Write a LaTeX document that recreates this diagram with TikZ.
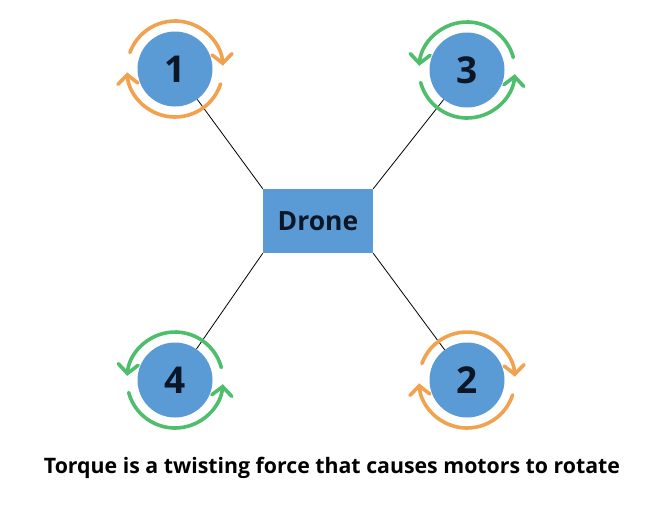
\documentclass[tikz,border=0pt]{standalone}
\usepackage{fontspec}
\setmainfont{Open Sans}
\usetikzlibrary{arrows.meta,calc}
\definecolor{motorblue}{HTML}{5B9BD5}
\definecolor{txtdark}{HTML}{0B1626}
\definecolor{orangearr}{HTML}{F0A24E}
\definecolor{greenarr}{HTML}{4DBE6C}
\tikzset{
  motor/.style={circle, fill=motorblue, minimum size=75pt, inner sep=0pt,
    font=\fontsize{37}{37}\selectfont\bfseries, text=txtdark},
  dronebox/.style={rectangle, fill=motorblue, minimum width=110pt, minimum height=64pt,
    inner sep=0pt, font=\fontsize{26.5}{26.5}\selectfont\bfseries, text=txtdark},
  arm/.style={draw=black, line width=0.8pt},
  spin/.style={line width=3.6pt, line cap=round, -{Straight Barb[length=9pt,width=20pt,line cap=round]}},
  cwspin/.style={spin, draw=orangearr},
  ccwspin/.style={spin, draw=greenarr},
}
\begin{document}
\begin{tikzpicture}[x=1pt,y=-1pt]
\useasboundingbox (0,0) rectangle (647,507);
\fill[white] (0,0) rectangle (647,507);
\node[dronebox] (drone) at (318,221) {Drone};
\node[motor] (m1) at (175,69) {1};
\node[motor] (m3) at (467,70) {3};
\node[motor] (m4) at (175,380) {4};
\node[motor] (m2) at (467,380) {2};
\draw[arm] (m1) -- (drone.north west);
\draw[arm] (m3) -- (drone.north east);
\draw[arm] (m4) -- (drone.south west);
\draw[arm] (m2) -- (drone.south east);
% clockwise (orange) -- note y axis flipped, so angles are mirrored
\foreach \m in {m1,m2}{
  \draw[cwspin] ($(\m)+(-160:48)$) arc[start angle=-160, end angle=-4, radius=48];
  \draw[cwspin] ($(\m)+(18:48)$) arc[start angle=18, end angle=176, radius=48];
}
\foreach \m in {m3,m4}{
  \draw[ccwspin] ($(\m)+(-15:48)$) arc[start angle=-15, end angle=-175, radius=48];
  \draw[ccwspin] ($(\m)+(165:48)$) arc[start angle=165, end angle=5, radius=48];
}
\node[font=\fontsize{21.3}{21.3}\selectfont\bfseries, text=black] (cap) at (332,468)
  {Torque is a twisting force that causes motors to rotate};
\end{tikzpicture}
\end{document}
